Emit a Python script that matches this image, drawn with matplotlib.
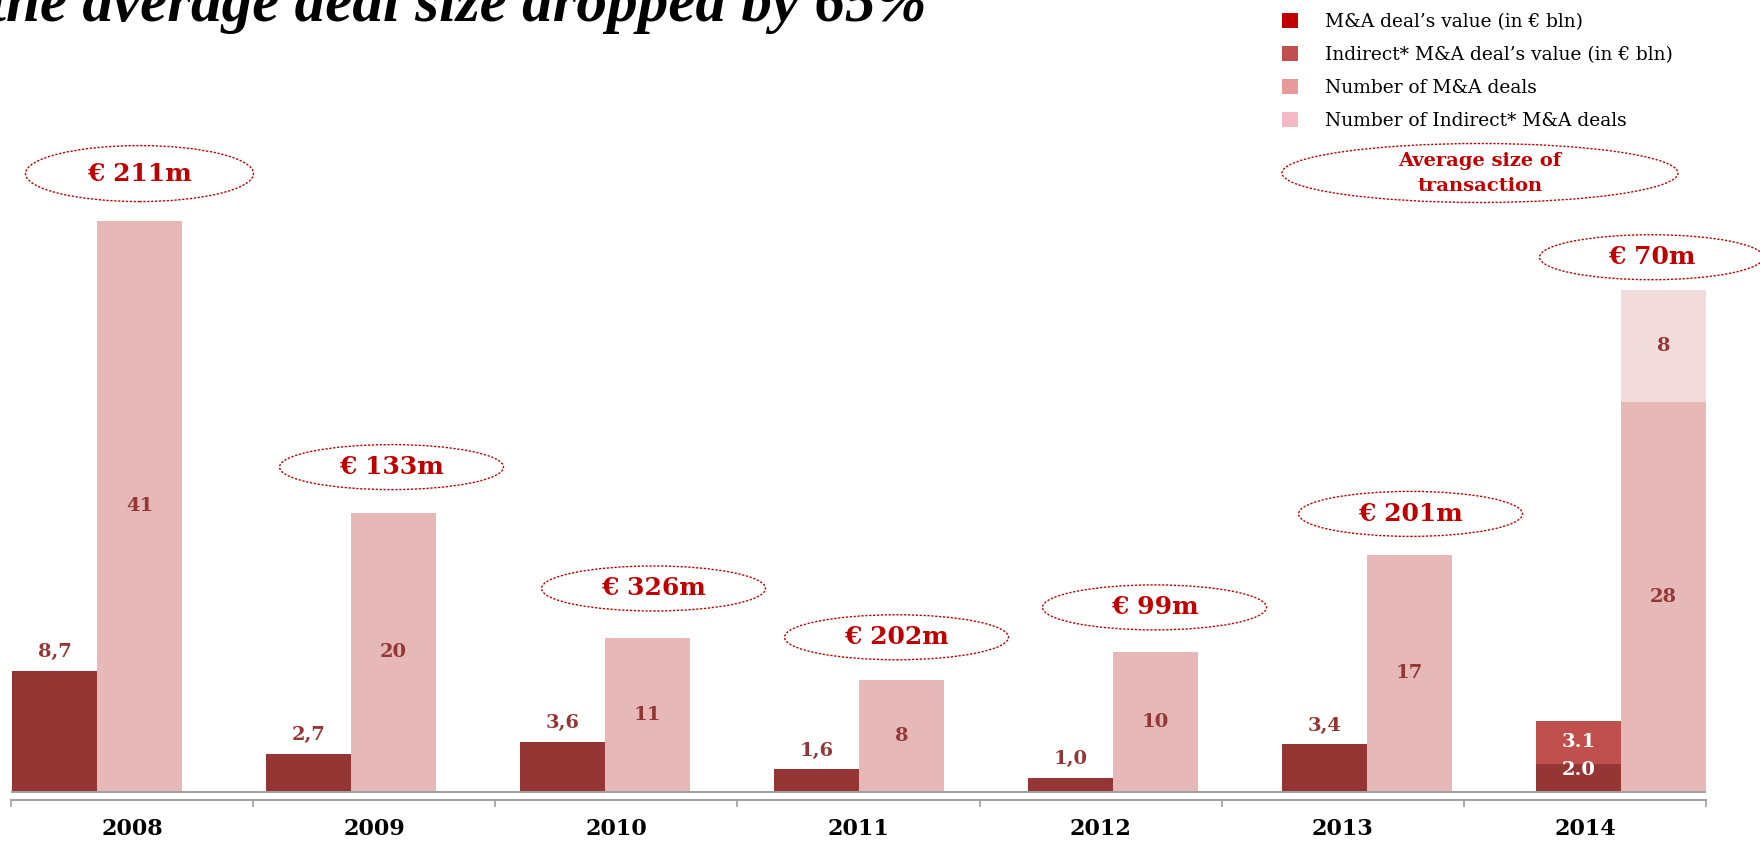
import numpy as np
import matplotlib
matplotlib.use('Agg')
import matplotlib.pyplot as plt
from matplotlib.patches import Ellipse, Patch

# ---------------- data ----------------
years = ['2008', '2009', '2010', '2011', '2012', '2013', '2014']
deal_value = [8.7, 2.7, 3.6, 1.6, 1.0, 3.4, 2.0]
indirect_value = [0, 0, 0, 0, 0, 0, 3.1]
deal_count = [41, 20, 11, 8, 10, 17, 28]
indirect_count = [0, 0, 0, 0, 0, 0, 8]
value_labels = ['8,7', '2,7', '3,6', '1,6', '1,0', '3,4', '2.0']
indirect_value_labels = ['', '', '', '', '', '', '3.1']
count_labels = ['41', '20', '11', '8', '10', '17', '28']
indirect_count_labels = ['', '', '', '', '', '', '8']
avg_size_labels = ['€ 211m', '€ 133m', '€ 326m', '€ 202m', '€ 99m', '€ 201m', '€ 70m']
legend_labels = ["M&A deal’s value (in € bln)",
                 "Indirect* M&A deal’s value (in € bln)",
                 "Number of M&A deals",
                 "Number of Indirect* M&A deals"]
title_text = "the average deal size dropped by 65%"
oval_note = "Average size of\ntransaction"

# ---------------- layout / style ----------------
oval_gap_px = [47, 46, 50, 43, 45, 41, 33]   # oval centre above bar top
oval_dx_px = [0, -2, 6, -5, -1, 1, -12]      # horizontal nudge of ovals

C_VAL = '#943634'
C_IND = '#C0504D'
C_CNT = '#E6B9B8'
C_ICNT = '#F2DCDB'
LEG_COLORS = ['#C00000', '#C0504D', '#E8999A', '#F2BAC5']
RED = '#C00000'
GREY = '#A0A0A0'
SERIF = 'DejaVu Serif'

W, H = 1760, 841
fig = plt.figure(figsize=(W / 100, H / 100), dpi=100)
ax = fig.add_axes([0, 0, 1, 1])
pair0, pair_step = 97.0, 254.0     # pixel position of first bar pair / spacing
ppu = 13.93                         # pixels per unit
base = 791.7                        # pixel row of baseline (from top)
ax.set_xlim(-pair0 / pair_step, (W - pair0) / pair_step)
ax.set_ylim(-(H - base) / ppu, base / ppu)
ax.axis('off')


def px2data(px, py):
    return (px - pair0) / pair_step, (base - py) / ppu


bw = 85.0 / pair_step
x = np.arange(len(years))
dv = np.array(deal_value)
iv = np.array(indirect_value)
dc = np.array(deal_count)
ic = np.array(indirect_count)

ax.bar(x - bw / 2, dv, bw, color=C_VAL, edgecolor='none', zorder=2)
ax.bar(x - bw / 2, iv, bw, bottom=dv, color=C_IND, edgecolor='none', zorder=2)
ax.bar(x + bw / 2, dc, bw, color=C_CNT, edgecolor='none', zorder=2)
ax.bar(x + bw / 2, ic, bw, bottom=dc, color=C_ICNT, edgecolor='none', zorder=2)

lab_kw = dict(ha='center', va='center', fontfamily=SERIF, fontweight='bold',
              fontsize=14, zorder=5)
for i in range(len(years)):
    if iv[i] > 0:
        ax.text(x[i] - bw / 2, dv[i] / 2 + 0.55, value_labels[i], color='white', **lab_kw)
        ax.text(x[i] - bw / 2, dv[i] + iv[i] / 2, indirect_value_labels[i], color='white', **lab_kw)
    else:
        ax.text(x[i] - bw / 2, dv[i] + 1.35, value_labels[i], color=C_VAL, **lab_kw)
    ax.text(x[i] + bw / 2, dc[i] / 2, count_labels[i], color=C_VAL, **lab_kw)
    if ic[i] > 0:
        ax.text(x[i] + bw / 2, dc[i] + ic[i] / 2, indirect_count_labels[i], color=C_VAL, **lab_kw)

    # average-size ovals
    top = dc[i] + ic[i]
    ew, eh = 224 / pair_step, 45 / ppu
    if i == 0:
        ew, eh = 228 / pair_step, 56 / ppu
    cx = x[i] + bw / 2 + oval_dx_px[i] / pair_step
    cy = top + oval_gap_px[i] / ppu
    ax.add_patch(Ellipse((cx, cy), ew, eh, facecolor='none', edgecolor=RED,
                         lw=1.0, linestyle=(0, (1.6, 1.2)), zorder=4))
    ax.text(cx, cy, avg_size_labels[i], ha='center', va='center', color=RED,
            fontfamily=SERIF, fontweight='bold', fontsize=18, zorder=5)

# legend oval
lcx, lcy = px2data(1480, 173)
ax.add_patch(Ellipse((lcx, lcy), 396 / pair_step, 59 / ppu, facecolor='none',
                     edgecolor=RED, lw=1.0, linestyle=(0, (1.6, 1.2)), zorder=4))
ax.text(lcx, lcy, oval_note, ha='center', va='center', color=RED, fontfamily=SERIF,
        fontweight='bold', fontsize=14, linespacing=1.5, zorder=5)

# ---------------- category axis ----------------
ax2 = fig.add_axes([11 / W, 0, (1706 - 11) / W, 1])
ax2.patch.set_alpha(0)
ax2.set_xlim(-0.5, len(years) - 0.5)
ax2.set_ylim(ax.get_ylim())
for s in ['top', 'left', 'right']:
    ax2.spines[s].set_visible(False)
ax2.spines['bottom'].set_position(('data', -(800 - base) / ppu))
ax2.spines['bottom'].set_color(GREY)
ax2.spines['bottom'].set_linewidth(1.4)
ax2.set_yticks([])
ax2.set_xticks(np.arange(-0.5, len(years)))
ax2.tick_params(axis='x', which='major', direction='out', length=5.2, width=1.2,
                color=GREY, labelbottom=False)
ax2.hlines(0, -0.5, len(years) - 0.5, color=GREY, lw=1.4, zorder=3)
for i, yl in enumerate(years):
    ax2.text(i, -(829 - base) / ppu, yl, ha='center', va='center', color='black',
             fontfamily=SERIF, fontweight='bold', fontsize=16)

# ---------------- legend ----------------
handles = [Patch(facecolor=c, edgecolor='none') for c in LEG_COLORS]
fs = 13.4
fig.legend(handles, legend_labels, loc='upper left',
           bbox_to_anchor=(1282 / W, 1 - 13 / H), frameon=False,
           prop={'family': SERIF, 'size': fs},
           handlelength=11.5 / fs, handleheight=11.5 / fs,
           handletextpad=1.45, labelspacing=0.8, borderpad=0, borderaxespad=0)

# ---------------- title (cut off at top, as in the source) ----------------
t = fig.text(926 / W, 1 - 21 / H, title_text, ha='right', va='baseline',
             fontfamily='Liberation Serif', fontweight='bold', fontstyle='italic',
             fontsize=36, color='black')
r = fig.canvas.get_renderer()
wpx = t.get_window_extent(r).width
t.set_fontsize(36 * 938 / wpx)

fig.savefig('out.png', dpi=100)
